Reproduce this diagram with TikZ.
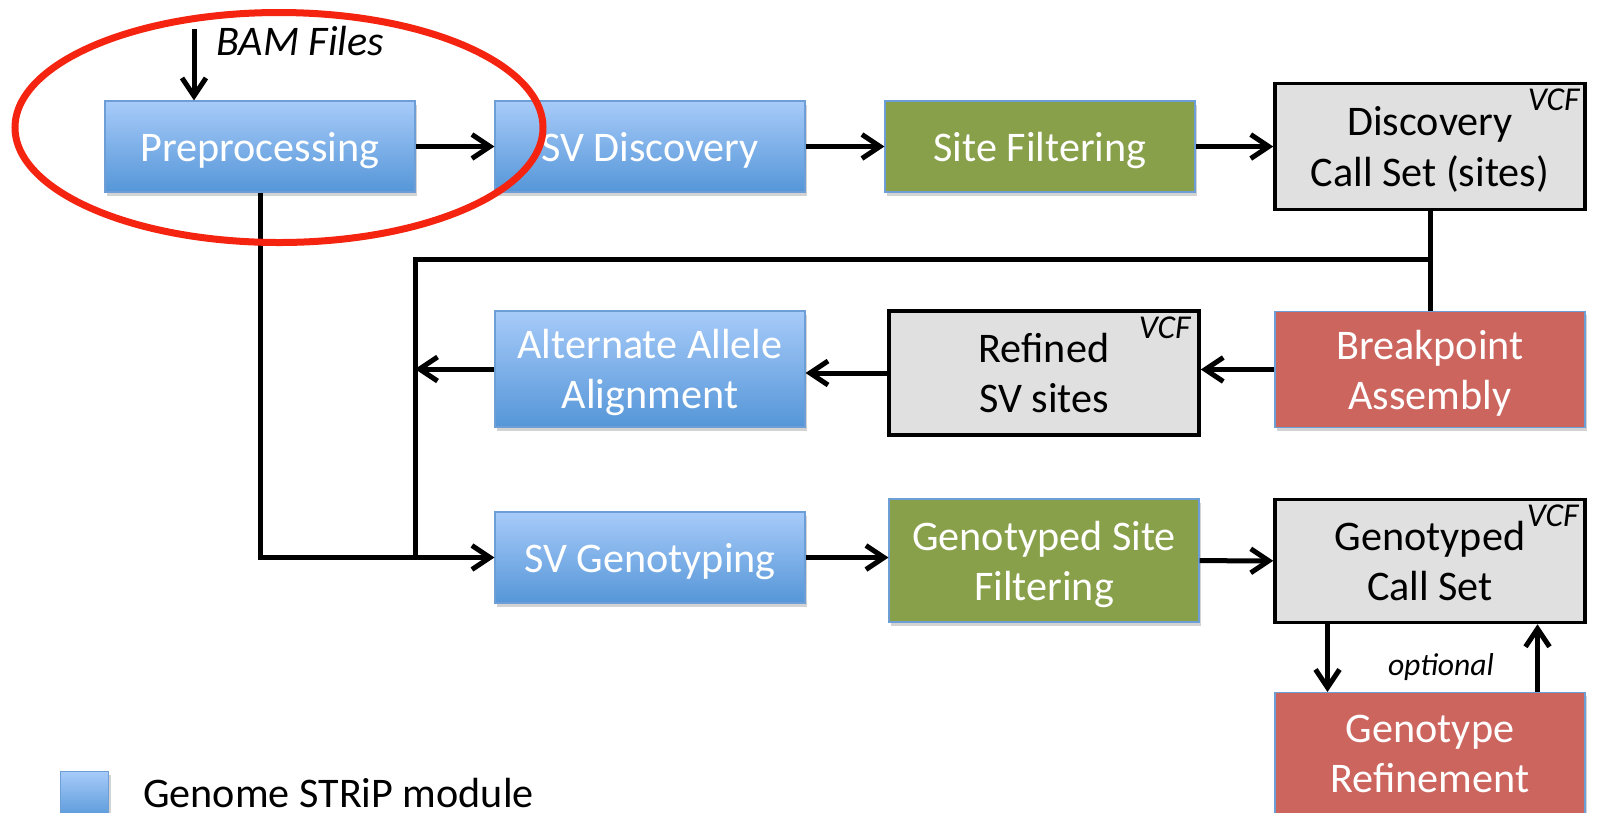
\documentclass[tikz,border=0pt]{standalone}
\usepackage{fontspec}
\setmainfont{Carlito}
\usetikzlibrary{arrows.meta,positioning,shadows}

\definecolor{modtop}{HTML}{A7CBF9}
\definecolor{modbot}{HTML}{5596D8}
\definecolor{modline}{HTML}{6D9ED6}
\definecolor{filtgreen}{HTML}{89A04A}
\definecolor{asmred}{HTML}{CD655F}
\definecolor{vcfgray}{HTML}{E0E0E0}
\definecolor{markred}{HTML}{F42410}

\begin{document}
\begin{tikzpicture}[%
    >={Straight Barb[length=0.36cm,width=0.48cm]},
    node distance=7.8cm,
    on grid,
    every node/.style={font=\fontsize{24}{28.5}\selectfont},
    box/.style={rectangle, minimum width=6.2cm, minimum height=1.82cm,
        align=center, text=white, draw=modline, line width=0.6pt, text depth=-1.5pt,
        drop shadow={shadow xshift=0.04cm, shadow yshift=-0.07cm, opacity=0.35}},
    module/.style={box, top color=modtop, bottom color=modbot},
    filter/.style={box, fill=filtgreen},
    refine/.style={box, fill=asmred},
    callset/.style={rectangle, minimum width=6.2cm, minimum height=2.48cm,
        align=center, fill=vcfgray, draw=black, line width=2pt, text depth=-1.5pt},
    vcf/.style={font=\fontsize{19}{21}\selectfont\itshape, inner sep=0pt, anchor=north east},
    note/.style={font=\fontsize{18}{20}\selectfont\itshape},
    flow/.style={line width=0.1cm}
    ]
    \useasboundingbox (0,0) rectangle (32.32,-16.24);

    \node[module] (pre) at (5.2,-2.93) {Preprocessing};
    \node[module] (svd) [right=of pre] {SV Discovery};
    \node[filter] (sf) [right=of svd] {Site Filtering};
    \node[callset, minimum height=2.52cm] (dcs) [right=of sf] {Discovery\\Call Set (sites)};
    \node[refine, minimum height=2.32cm] (ba) [below=4.46cm of dcs] {Breakpoint\\Assembly};
    \node[callset] (ref) [below=4.53cm of sf, xshift=0.08cm] {Refined\\SV sites};
    \node[module, minimum height=2.32cm] (alt) [below=4.45cm of svd] {Alternate Allele\\Alignment};
    \node[module] (svg) [below=8.22cm of svd] {SV Genotyping};
    \node[filter, minimum height=2.46cm] (gsf) [below=8.28cm of sf, xshift=0.08cm] {Genotyped Site\\Filtering};
    \node[callset, minimum height=2.46cm] (gcs) [below=8.29cm of dcs] {Genotyped\\Call Set};
    \node[refine, minimum height=2.46cm] (gr) [below=3.86cm of gcs] {Genotype\\Refinement};

    \node[vcf] (dcsv) at ([xshift=-0.14cm,yshift=-0.14cm]dcs.north east) {VCF};
    \node[vcf] (refv) at ([xshift=-0.2cm,yshift=-0.14cm]ref.north east) {VCF};
    \node[vcf] (gcsv) at ([xshift=-0.16cm,yshift=-0.14cm]gcs.north east) {VCF};

    % input
    \coordinate (bam) at (3.88,-0.58);
    \draw[flow,->] (bam) -- (bam |- pre.north);
    \node[anchor=base west, font=\fontsize{24}{28.5}\selectfont\itshape] (bamtxt) at (4.2,-1.1) {BAM Files};

    % discovery row
    \draw[flow,->] (pre) -- (svd);
    \draw[flow,->] (svd) -- (sf);
    \draw[flow,->] (sf) -- (dcs);

    % back to genotyping
    \coordinate (split) at (dcs.south |- 0,-5.18);
    \coordinate (bus) at (8.3,-5.18);
    \coordinate (merge) at (bus |- svg.west);
    \draw[flow] (dcs) -- (ba);
    \draw[flow] (split) -- (bus) -- (merge);
    \draw[flow,->] (ba.west) -- (ba.west -| ref.east);
    \draw[flow,->] (ref.west) -- (ref.west -| alt.east);
    \draw[flow,->] (alt.west) -- (alt.west -| bus);
    \draw[flow,->] (pre) |- (svg);

    % genotyping row
    \draw[flow,->] (svg.east) -- (svg.east -| gsf.west);
    \draw[flow,->] (gsf) -- (gcs);
    \draw[flow,->] ([xshift=-2.05cm]gcs.south) -- ([xshift=-2.05cm]gr.north);
    \draw[flow,->] ([xshift=2.15cm]gr.north) -- ([xshift=2.15cm]gcs.south);
    \node[note, anchor=base] (opt) at (28.82,-13.5) {optional};

    % legend
    \node[module, minimum width=0.96cm, minimum height=0.96cm, anchor=north west] (key) at (1.2,-15.42) {};
    \node[anchor=base west] (keytxt) at (2.74,-16.15) {Genome STRiP module};

    \draw[markred, line width=0.14cm] (5.58,-2.55) ellipse [x radius=5.28cm, y radius=2.3cm];
\end{tikzpicture}
\end{document}
